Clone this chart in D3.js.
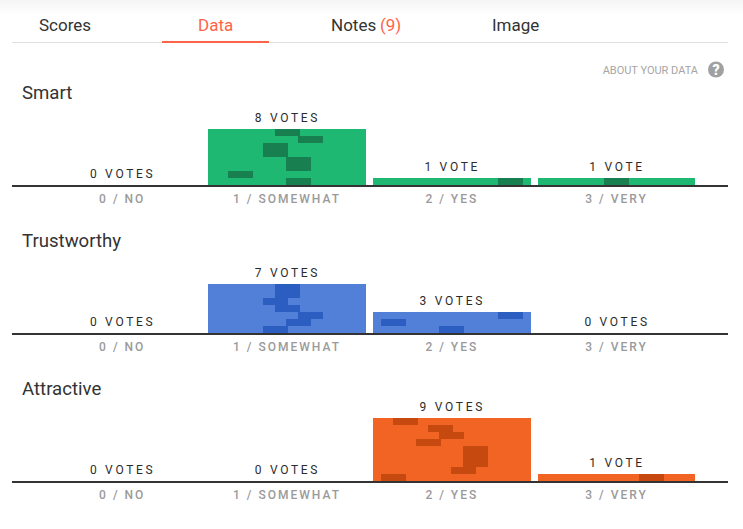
<!DOCTYPE html>
<html>
<head>
<meta charset="utf-8">
<script src="https://cdn.jsdelivr.net/npm/d3@7"></script>
<style>
  html, body { margin: 0; padding: 0; background: #fff; }
  svg { display: block; font-family: Roboto, sans-serif; }
</style>
</head>
<body>
<svg id="chart" width="743" height="529"></svg>
<script>
// Vote scale shared by all three panels
const categories = ["0 / NO", "1 / SOMEWHAT", "2 / YES", "3 / VERY"];

const criteria = ["Smart", "Trustworthy", "Attractive"];
const smartVotes = [0, 8, 1, 1];
const trustworthyVotes = [0, 7, 3, 0];
const attractiveVotes = [0, 0, 9, 1];

// Where each voter's own vote sits across the bar (percent), listed top row first
const smartCells = [[], [42.5, 57.1, 34.9, 34.9, 49.5, 49.5, 12.7, 49.5], [79.3], [41.9]];
const trustworthyCells = [[], [42.5, 42.5, 34.9, 42.5, 57.1, 49.5, 34.9], [79.3, 5.1, 41.9], []];
const attractiveCells = [[], [], [12.7, 34.9, 41.9, 27.3, 57.1, 57.1, 57.1, 49.5, 5.1], [64.1]];

const tabs = ["Scores", "Data", "Notes", "Image"];
const notesCount = "(9)";

const panelVotes = [smartVotes, trustworthyVotes, attractiveVotes];
const panelCells = [smartCells, trustworthyCells, attractiveCells];
const panelBase = [185, 333, 481];
const barColors = ["#1fb872", "#527fd8", "#f16424"];
const cellColors = ["#177f50", "#2c5dc0", "#c64a10"];

const svg = d3.select("#chart");
const accent = "#ff6348";

// Soft band along the top edge
const defs = svg.append("defs");
const fade = defs.append("linearGradient").attr("id", "topFade")
  .attr("x1", 0).attr("y1", 0).attr("x2", 0).attr("y2", 1);
fade.append("stop").attr("offset", 0).attr("stop-color", "#f5f5f5");
fade.append("stop").attr("offset", 1).attr("stop-color", "#ffffff");
svg.append("rect").attr("width", 743).attr("height", 15).attr("fill", "url(#topFade)");

// Tab strip
const tabX = [39, 198, 331, 492];
svg.selectAll("text.tab").data(tabs).join("text")
  .attr("class", "tab")
  .attr("x", (d, i) => tabX[i])
  .attr("y", 31)
  .attr("font-size", 17)
  .attr("fill", (d, i) => i === 1 ? accent : "#333")
  .text(d => d);
svg.append("text").attr("x", 380).attr("y", 31).attr("font-size", 17)
  .attr("fill", accent).text(notesCount);
svg.append("rect").attr("x", 12).attr("y", 42).attr("width", 716).attr("height", 1).attr("fill", "#e0e0e0");
svg.append("rect").attr("x", 162).attr("y", 41).attr("width", 107).attr("height", 2).attr("fill", accent);

// Help link
svg.append("text").attr("x", 698).attr("y", 74).attr("text-anchor", "end")
  .attr("font-size", 11).attr("fill", "#a5a5a5").text("ABOUT YOUR DATA");
svg.append("circle").attr("cx", 716).attr("cy", 69.5).attr("r", 8).attr("fill", "#a0a0a0");
svg.append("text").attr("x", 716).attr("y", 74.5).attr("text-anchor", "middle")
  .attr("font-size", 14).attr("font-weight", 900).attr("fill", "#fff").text("?");

const x = d3.scaleBand().domain(categories).range([43.4, 695.4]).paddingInner(7.2 / 164.8).paddingOuter(0);
const across = d3.scaleLinear().domain([0, 100]).range([0, x.bandwidth()]);
const cellSpan = 15.9;
const voteLabel = v => v === 1 ? "1 VOTE" : v + " VOTES";

criteria.forEach((name, p) => {
  const base = panelBase[p];
  const y = d3.scaleLinear().domain([0, 9]).range([base, base - 63]);
  const g = svg.append("g");

  g.append("text").attr("x", 22).attr("y", base - 86).attr("font-size", 18.6)
    .attr("fill", "#333").text(name);

  const rows = g.selectAll("g.col").data(categories).join("g")
    .attr("class", "col")
    .attr("transform", d => `translate(${x(d)},0)`);

  rows.append("rect")
    .attr("shape-rendering", "crispEdges")
    .attr("y", (d, i) => y(panelVotes[p][i]))
    .attr("width", x.bandwidth())
    .attr("height", (d, i) => y(0) - y(panelVotes[p][i]))
    .attr("fill", barColors[p]);

  rows.each(function (d, i) {
    const n = panelVotes[p][i];
    d3.select(this).selectAll("rect.cell").data(panelCells[p][i]).join("rect")
      .attr("class", "cell")
      .attr("shape-rendering", "crispEdges")
      .attr("x", v => across(v))
      .attr("y", (v, r) => y(n - r))
      .attr("width", across(cellSpan))
      .attr("height", y(0) - y(1))
      .attr("fill", cellColors[p]);
  });

  rows.append("text")
    .attr("x", x.bandwidth() / 2 + 0.5)
    .attr("y", (d, i) => y(panelVotes[p][i]) - 7)
    .attr("text-anchor", "middle")
    .attr("font-size", 12)
    .attr("letter-spacing", 2.7)
    .attr("fill", "#2b2b2b")
    .text((d, i) => voteLabel(panelVotes[p][i]));

  // Baseline and category labels
  const axis = g.append("g").attr("transform", `translate(0,${base + 1})`)
    .call(d3.axisBottom(x).tickSize(0).tickPadding(8));
  axis.select(".domain").remove();
  axis.selectAll("text")
    .attr("font-family", "Roboto, sans-serif")
    .attr("font-size", 12)
    .attr("font-weight", 500)
    .attr("letter-spacing", 2)
    .attr("fill", "#9a9a9a");
  g.append("rect").attr("x", 12).attr("y", base).attr("width", 716).attr("height", 2).attr("fill", "#333");
});
</script>
</body>
</html>
